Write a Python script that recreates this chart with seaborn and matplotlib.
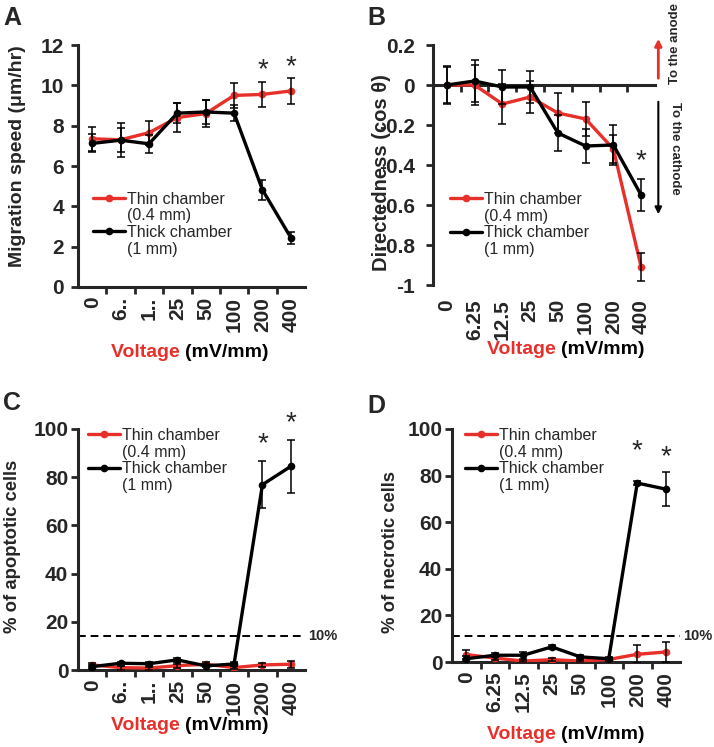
import numpy as np
import matplotlib
matplotlib.use("Agg")
import matplotlib.pyplot as plt
from matplotlib.lines import Line2D
import seaborn as sns

# voltage categories (mV/mm)
voltages = ["0", "6.25", "12.5", "25", "50", "100", "200", "400"]
voltages_cut = ["0", "6..", "1..", "25", "50", "100", "200", "400"]

# A - migration speed (um/hr)
speed_thin = [7.35, 7.3, 7.65, 8.4, 8.6, 9.5, 9.55, 9.72]
speed_thin_err = [0.6, 0.6, 0.6, 0.7, 0.65, 0.6, 0.62, 0.65]
speed_thick = [7.12, 7.28, 7.1, 8.62, 8.68, 8.62, 4.82, 2.45]
speed_thick_err = [0.45, 0.85, 0.45, 0.5, 0.6, 0.4, 0.5, 0.3]

# B - directedness (cos theta)
dir_thin = [0.0, 0.0, -0.095, -0.06, -0.14, -0.17, -0.32, -0.91]
dir_thin_err = [0.09, 0.1, 0.1, 0.08, 0.1, 0.085, 0.07, 0.07]
dir_thick = [0.0, 0.02, -0.01, -0.01, -0.24, -0.305, -0.3, -0.55]
dir_thick_err = [0.095, 0.105, 0.085, 0.08, 0.09, 0.085, 0.1, 0.08]

# C - % apoptotic cells
apo_thin = [2.1, 1.0, 0.8, 1.8, 2.4, 1.0, 2.1, 2.4]
apo_thin_err = [1.0, 0.8, 0.6, 0.8, 0.8, 0.6, 1.0, 1.5]
apo_thick = [1.4, 2.8, 2.6, 4.2, 1.7, 2.5, 76.9, 84.5]
apo_thick_err = [0.8, 0.6, 0.6, 0.8, 0.6, 0.8, 9.8, 11.0]
apo_threshold = 14.1

# D - % necrotic cells
nec_thin = [3.2, 1.7, 0.4, 1.0, 0.4, 1.1, 3.3, 4.3]
nec_thin_err = [1.8, 0.8, 0.4, 0.6, 0.4, 0.5, 3.9, 4.3]
nec_thick = [1.4, 2.9, 2.9, 6.5, 2.2, 1.4, 76.8, 74.2]
nec_thick_err = [1.0, 0.8, 1.5, 1.0, 0.6, 0.6, 0.8, 7.2]
nec_threshold = 11.0

# significance stars: (category index, height)
stars_a = [(6, 10.75), (7, 10.9)]
stars_b = [(7, -0.38)]
stars_c = [(6, 93.5), (7, 102.5)]
stars_d = [(6, 90.5), (7, 88.0)]

legend_lines = [("Thin chamber", "(0.4 mm)"), ("Thick chamber", "(1 mm)")]

RED = "#E8302A"
BLACK = "#000000"

sns.set_style("ticks")
plt.rcParams["font.family"] = ["Liberation Sans", "DejaVu Sans"]
plt.rcParams["font.weight"] = "bold"

fig = plt.figure(figsize=(7.14, 7.47), dpi=100)
W, H = 714, 747


def box(left, right, top, bottom):
    return [left / W, 1 - bottom / H, (right - left) / W, (bottom - top) / H]


axA = fig.add_axes(box(78, 305, 45, 287))
axB = fig.add_axes(box(433, 655, 45, 285))
axC = fig.add_axes(box(78, 305, 429, 670))
axD = fig.add_axes(box(452, 680, 429, 662))

pos = np.arange(len(voltages))


def draw_series(ax, thin, thin_err, thick, thick_err):
    sns.lineplot(x=pos, y=thin, color=RED, marker="o", markersize=5.5,
                 markeredgewidth=0, linewidth=2.4, label=legend_lines[0][0],
                 ax=ax, zorder=3)
    sns.lineplot(x=pos, y=thick, color=BLACK, marker="o", markersize=5.5,
                 markeredgewidth=0, linewidth=2.4, label=legend_lines[1][0],
                 ax=ax, zorder=3)
    for vals, err in [(thin, thin_err), (thick, thick_err)]:
        ax.errorbar(pos, vals, yerr=err, fmt="none", ecolor="black",
                    elinewidth=1.1, capsize=3, capthick=1.1, zorder=4)


def style_axes(ax, ticklabels, yticks, ylim, ypad):
    ax.set_xlim(-0.5, len(voltages) - 0.5)
    ax.set_ylim(*ylim)
    ax.set_yticks(yticks)
    sns.despine(ax=ax)
    for s in ["left", "bottom"]:
        ax.spines[s].set_linewidth(2.2)
    ax.set_xticks(pos)
    ax.set_xticklabels(ticklabels, rotation=90)
    ax.set_xticks(pos[:-1] + 0.5, minor=True)
    ax.tick_params(axis="x", which="major", length=0, pad=7, labelsize=15)
    ax.tick_params(axis="x", which="minor", length=5, width=2, direction="out")
    ax.tick_params(axis="y", length=5, width=2, labelsize=15, pad=ypad)
    for lab in ax.get_xticklabels() + ax.get_yticklabels():
        lab.set_fontweight("bold")


def legend(ax, x, y):
    handles, _ = ax.get_legend_handles_labels()
    blank = Line2D([], [], alpha=0)
    hs, ls = [], []
    for h, (first, second) in zip(handles, legend_lines):
        hs += [h, blank]
        ls += [first, second]
    ax.legend(hs, ls, loc="upper left", bbox_to_anchor=(x, y), frameon=False,
              prop={"size": 11.5, "weight": "normal"}, handlelength=2.0,
              handletextpad=0.1, labelspacing=0.1, borderaxespad=0,
              borderpad=0)


def xlabel(ax, xs, ys):
    ax.text(xs, ys, "Voltage ", color=RED, fontsize=14, fontweight="bold",
            ha="right", va="center", transform=ax.transAxes)
    ax.text(xs, ys, "(mV/mm)", color=BLACK, fontsize=14, fontweight="bold",
            ha="left", va="center", transform=ax.transAxes)


def ylabel(ax, text, xs, ys, size=14):
    ax.set_ylabel(text, fontsize=size, fontweight="bold", va="center")
    ax.yaxis.set_label_coords(xs, ys)


def stars(ax, pts):
    for i, yv in pts:
        ax.text(pos[i], yv, "*", fontsize=20, fontweight="normal",
                ha="center", va="center", clip_on=False)


def panel_letter(ax, letter, dx, dy):
    ax.text(dx, dy, letter, fontsize=18, fontweight="bold", ha="left",
            va="baseline", transform=ax.transAxes)


def threshold(ax, yv):
    ax.axhline(yv, color="black", lw=1.4, ls=(0, (4, 2.5)), zorder=2)
    ax.text(1.012, yv, "10%", fontsize=10.5, fontweight="bold",
            ha="left", va="center", transform=ax.get_yaxis_transform())


# ---- A ----
draw_series(axA, speed_thin, speed_thin_err, speed_thick, speed_thick_err)
style_axes(axA, voltages_cut, np.arange(0, 13, 2), (0, 12), 5)
legend(axA, 0.066, 0.393)
xlabel(axA, 0.47, -0.27)
ylabel(axA, "Migration speed (μm/hr)", -0.265, 0.54)
stars(axA, stars_a)
panel_letter(axA, "A", -0.33, 1.083)

# ---- B ----
draw_series(axB, dir_thin, dir_thin_err, dir_thick, dir_thick_err)
style_axes(axB, voltages, [0.2, 0, -0.2, -0.4, -0.6, -0.8, -1], (-1, 0.2), 8)
axB.set_yticklabels(["0.2", "0", "-0.2", "-0.4", "-0.6", "-0.8", "-1"])
for lab in axB.get_yticklabels():
    lab.set_fontweight("bold")
axB.spines["bottom"].set_position(("data", 0))
axB.tick_params(axis="x", which="major", labelbottom=False)
sec = axB.secondary_xaxis(0)
sec.set_xticks(pos, labels=voltages)
sec.spines["bottom"].set_visible(False)
sec.tick_params(axis="x", length=0, pad=10, labelsize=15, labelrotation=90)
for lab in sec.get_xticklabels():
    lab.set_fontweight("bold")
legend(axB, 0.077, 0.3875)
xlabel(axB, 0.575, -0.27)
ylabel(axB, "Directedness (cos θ)", -0.23, 0.47, 14.5)
stars(axB, stars_b)
panel_letter(axB, "B", -0.297, 1.083)
axB.annotate("", xy=(1.015, 0.245), xytext=(1.015, 0.02),
             xycoords=("axes fraction", "data"),
             arrowprops=dict(arrowstyle="-|>", color=RED, lw=2,
                             mutation_scale=10), annotation_clip=False)
axB.annotate("", xy=(1.015, -0.66), xytext=(1.015, -0.07),
             xycoords=("axes fraction", "data"),
             arrowprops=dict(arrowstyle="-|>", color=BLACK, lw=1.5,
                             mutation_scale=10), annotation_clip=False)
axB.text(1.09, 0.21, "To the anode", rotation=90, fontsize=9.5,
         fontweight="bold", ha="center", va="center",
         transform=axB.get_yaxis_transform(), clip_on=False)
axB.text(1.09, -0.315, "To the cathode", rotation=-90, fontsize=9.5,
         fontweight="bold", ha="center", va="center",
         transform=axB.get_yaxis_transform(), clip_on=False)

# ---- C ----
draw_series(axC, apo_thin, apo_thin_err, apo_thick, apo_thick_err)
style_axes(axC, voltages_cut, np.arange(0, 101, 20), (0, 100), 2)
threshold(axC, apo_threshold)
legend(axC, 0.044, 1.004)
xlabel(axC, 0.47, -0.23)
ylabel(axC, "% of apoptotic cells", -0.29, 0.515, 13.3)
stars(axC, stars_c)
panel_letter(axC, "C", -0.33, 1.079)

# ---- D ----
draw_series(axD, nec_thin, nec_thin_err, nec_thick, nec_thick_err)
style_axes(axD, voltages, np.arange(0, 101, 20), (0, 100), 2)
threshold(axD, nec_threshold)
legend(axD, 0.057, 1.004)
xlabel(axD, 0.48, -0.31)
ylabel(axD, "% of necrotic cells", -0.27, 0.47, 13.3)
stars(axD, stars_d)
panel_letter(axD, "D", -0.373, 1.069)

fig.savefig("out.png", dpi=100)
